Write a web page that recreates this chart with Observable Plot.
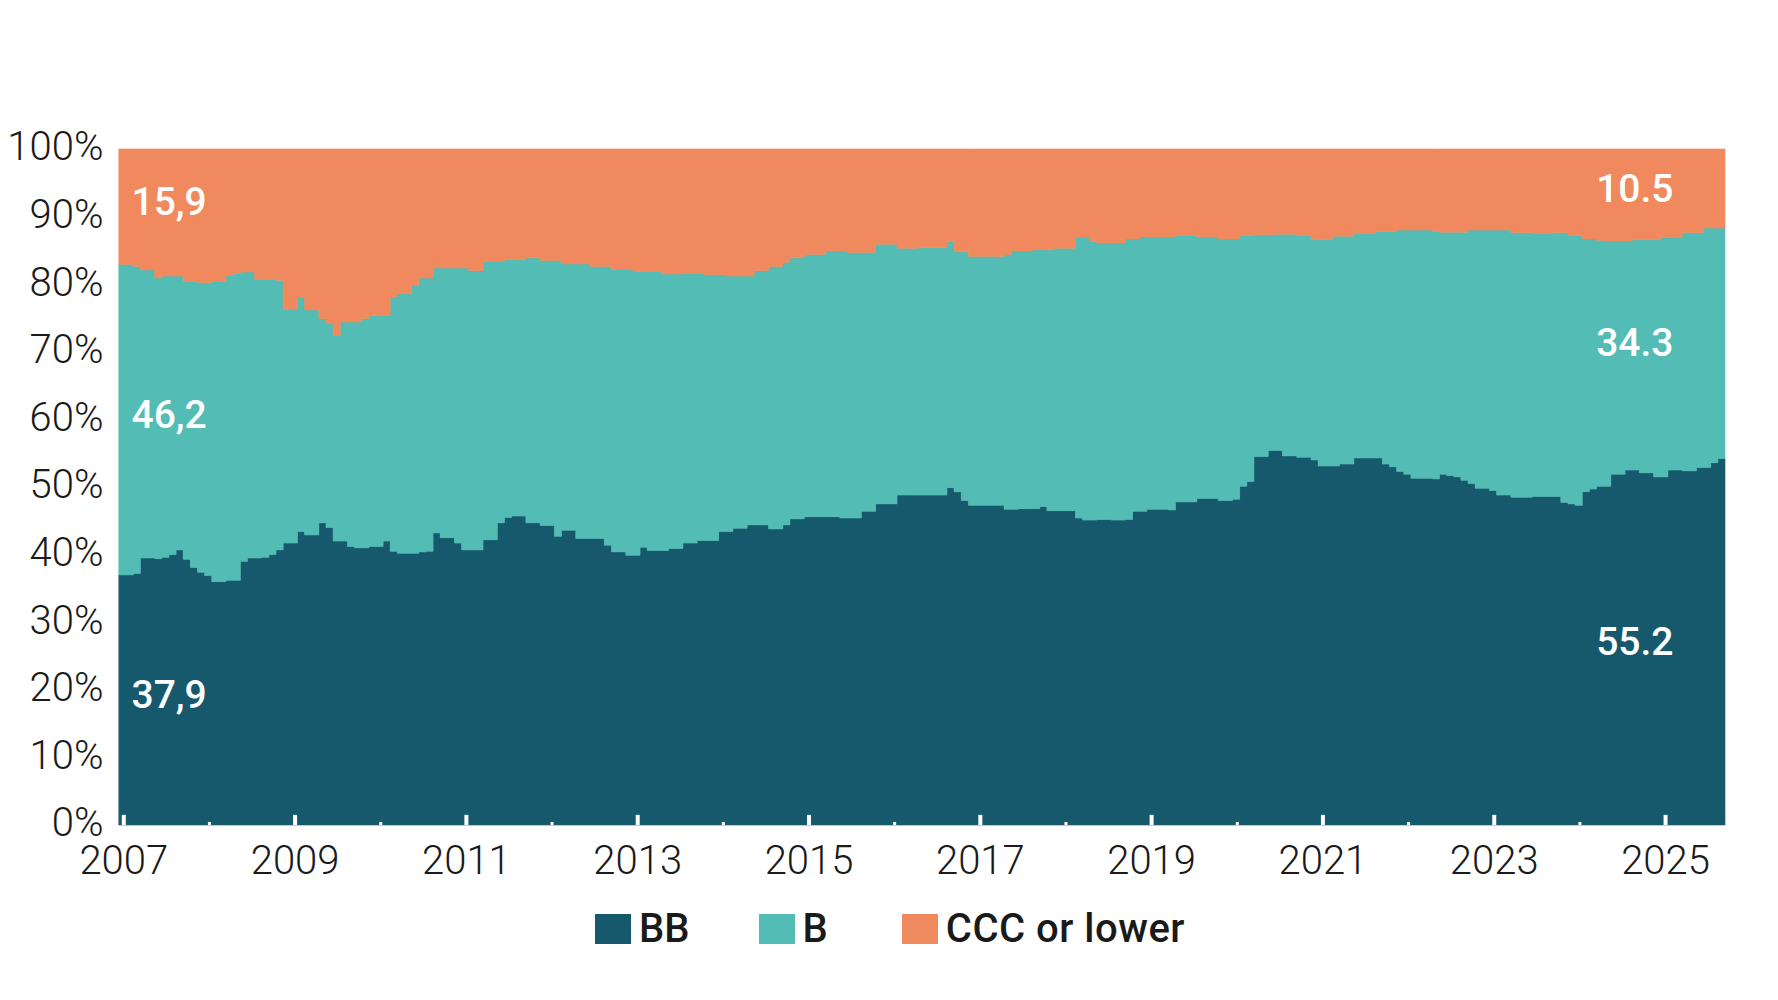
<!DOCTYPE html>
<html>
<head>
<meta charset="utf-8">
<script src="https://cdn.jsdelivr.net/npm/d3@7"></script>
<script src="https://cdn.jsdelivr.net/npm/@observablehq/plot@0.6"></script>
<style>
  html, body { margin: 0; padding: 0; background: #fff; }
  #wrap { position: relative; width: 1778px; height: 1000px; font-family: Roboto, "Open Sans", sans-serif; }
  #legend { position: absolute; left: 595px; top: 914px; display: flex; align-items: flex-start; gap: 69px; }
  .item { display: flex; align-items: flex-start; gap: 8px; height: 30px; }
  .item:last-child { margin-left: 5px; }
  .sw { width: 36px; height: 30px; }
  .lab { font-family: Roboto, sans-serif; font-weight: 500; font-size: 40px; line-height: 30px; color: #1a1a1a; white-space: nowrap; }
  .item:last-child .lab { letter-spacing: 0.5px; }
</style>
</head>
<body>
<div id="wrap"><div id="chart"></div><div id="legend"></div></div>
<script>
// Ratings, colours and read-off values (monthly, Dec 2006 – Aug 2025)
const ratings = ["BB", "B", "CCC or lower"];
const colors = ["#17596c", "#52bcb5", "#f08a5e"];
const startMonth = 2006.95; // first monthly observation (decimal year)

// Upper edge of the BB band (% of index)
const bbTop = [
  37.0, 37.0, 37.2, 39.5, 39.5, 39.4, 39.6, 40.0, 40.7, 39.3,
  38.1, 37.4, 36.9, 36.0, 36.0, 36.2, 36.2, 39.0, 39.5, 39.5,
  39.6, 40.0, 40.7, 41.7, 41.7, 43.4, 42.9, 42.9, 44.7, 44.0,
  42.0, 42.0, 41.2, 41.0, 41.0, 41.2, 41.2, 42.0, 40.5, 40.2,
  40.2, 40.2, 40.4, 40.5, 43.2, 42.5, 42.5, 41.7, 40.7, 40.7,
  40.7, 42.2, 42.2, 44.7, 45.5, 45.7, 45.7, 44.7, 44.7, 44.3,
  44.3, 42.7, 43.6, 43.6, 42.4, 42.4, 42.4, 42.4, 41.4, 40.4,
  40.4, 39.9, 39.9, 41.1, 40.6, 40.6, 40.6, 40.9, 40.9, 41.7,
  41.7, 42.1, 42.1, 42.1, 43.4, 43.4, 43.9, 43.9, 44.4, 44.4,
  44.4, 43.8, 43.8, 44.4, 45.3, 45.3, 45.6, 45.6, 45.6, 45.6,
  45.6, 45.4, 45.4, 45.4, 46.4, 46.4, 47.5, 47.5, 47.5, 48.8,
  48.8, 48.8, 48.8, 48.8, 48.8, 48.8, 49.9, 49.3, 48.0, 47.3,
  47.3, 47.3, 47.3, 47.3, 46.7, 46.7, 46.8, 46.8, 46.8, 47.1,
  46.5, 46.5, 46.5, 46.5, 45.4, 45.1, 45.1, 45.2, 45.2, 45.1,
  45.1, 45.2, 46.4, 46.4, 46.7, 46.7, 46.7, 46.6, 47.8, 47.8,
  47.8, 48.3, 48.3, 48.3, 48.0, 48.0, 48.2, 50.1, 50.8, 54.5,
  54.5, 55.4, 55.4, 54.6, 54.6, 54.4, 54.4, 54.0, 53.1, 53.1,
  53.1, 53.4, 53.4, 54.3, 54.3, 54.3, 54.3, 53.4, 53.0, 52.3,
  51.9, 51.3, 51.3, 51.3, 51.2, 51.9, 51.7, 51.5, 51.0, 50.5,
  49.8, 49.8, 49.5, 48.8, 48.8, 48.5, 48.5, 48.5, 48.6, 48.6,
  48.6, 48.6, 47.7, 47.5, 47.3, 49.3, 49.7, 50.1, 50.1, 51.9,
  51.9, 52.5, 52.5, 52.1, 52.1, 51.5, 51.5, 52.5, 52.5, 52.4,
  52.4, 52.9, 52.9, 53.6, 54.2
];

// Upper edge of the B band (BB + B, % of index); the rest is CCC or lower
const bTop = [
  82.9, 82.9, 82.6, 82.1, 82.1, 80.9, 81.2, 81.2, 81.2, 80.4,
  80.4, 80.2, 80.2, 80.4, 80.4, 81.3, 81.6, 81.8, 81.8, 80.7,
  80.7, 80.7, 80.6, 76.3, 76.3, 78.1, 76.2, 76.2, 74.9, 74.2,
  72.4, 74.4, 74.4, 74.4, 74.9, 75.4, 75.4, 75.4, 78.1, 78.6,
  78.6, 79.9, 80.9, 80.9, 82.4, 82.4, 82.4, 82.4, 82.4, 82.0,
  82.0, 83.4, 83.4, 83.4, 83.7, 83.7, 83.7, 83.9, 83.9, 83.5,
  83.5, 83.5, 83.0, 83.0, 83.0, 83.0, 82.6, 82.6, 82.6, 82.2,
  82.2, 82.2, 81.9, 81.9, 81.9, 81.9, 81.5, 81.5, 81.5, 81.6,
  81.6, 81.6, 81.4, 81.4, 81.4, 81.2, 81.2, 81.2, 81.2, 82.0,
  82.0, 82.6, 82.6, 83.2, 83.9, 83.9, 84.4, 84.4, 84.4, 84.9,
  84.9, 84.9, 84.7, 84.7, 84.7, 84.7, 85.9, 85.9, 85.9, 85.3,
  85.3, 85.3, 85.4, 85.4, 85.4, 85.4, 86.3, 84.8, 84.8, 84.1,
  84.1, 84.1, 84.1, 84.1, 84.4, 84.9, 84.9, 84.9, 85.1, 85.1,
  85.1, 85.3, 85.3, 85.3, 87.0, 87.0, 86.3, 86.1, 86.1, 86.1,
  86.1, 86.7, 86.7, 87.0, 87.0, 87.0, 87.0, 87.0, 87.2, 87.2,
  87.2, 87.0, 87.0, 87.0, 86.7, 86.7, 86.7, 87.2, 87.2, 87.3,
  87.3, 87.3, 87.4, 87.4, 87.4, 87.2, 87.2, 86.6, 86.6, 86.6,
  87.1, 87.1, 87.1, 87.5, 87.5, 87.5, 87.8, 87.8, 87.8, 88.0,
  88.0, 88.0, 88.0, 88.0, 87.8, 87.7, 87.7, 87.7, 87.7, 88.0,
  88.0, 88.0, 88.0, 88.0, 88.0, 87.6, 87.6, 87.6, 87.5, 87.5,
  87.5, 87.6, 87.6, 87.2, 87.2, 86.7, 86.7, 86.5, 86.4, 86.4,
  86.4, 86.4, 86.6, 86.6, 86.6, 86.6, 86.9, 86.9, 86.9, 87.6,
  87.6, 87.6, 88.3, 88.3, 88.3
];

const startLabels = ["37,9", "46,2", "15,9"];
const endLabels = ["55.2", "34.3", "10.5"];
const yTicks = [0, 10, 20, 30, 40, 50, 60, 70, 80, 90, 100];
const yearLabels = [2007, 2009, 2011, 2013, 2015, 2017, 2019, 2021, 2023, 2025];
const yearMinor = [2008, 2010, 2012, 2014, 2016, 2018, 2020, 2022, 2024];

// Build the long table for stacking (one extra row closes the last step)
const n = bbTop.length;
const rows = [];
for (let i = 0; i <= n; i++) {
  const j = Math.min(i, n - 1);
  const x = startMonth + i / 12;
  rows.push({x, rating: "BB", value: bbTop[j]});
  rows.push({x, rating: "B", value: bTop[j] - bbTop[j]});
  rows.push({x, rating: "CCC or lower", value: 100 - bTop[j]});
}
const xFirst = startMonth;
const xLast = startMonth + n / 12;
const firstMid = [bbTop[0] / 2, (bbTop[0] + bTop[0]) / 2, (bTop[0] + 100) / 2];
const lastMid = [bbTop[n - 1] / 2, (bbTop[n - 1] + bTop[n - 1]) / 2, (bTop[n - 1] + 100) / 2];

const chart = Plot.plot({
  width: 1778,
  height: 885,
  marginLeft: 119,
  marginRight: 53,
  marginTop: 149,
  marginBottom: 60,
  style: {fontFamily: "Roboto, sans-serif", background: "white", color: "#1a1a1a"},
  x: {type: "linear", domain: [xFirst, xLast]},
  y: {domain: [0, 100]},
  color: {domain: ratings, range: colors},
  marks: [
    Plot.areaY(rows, {x: "x", y: "value", z: "rating", fill: "rating", stroke: "rating", strokeWidth: 0.6, curve: "step-after", order: ratings}),
    Plot.ruleX(yearLabels, {y1: 0, y2: 1.5, stroke: "white", strokeWidth: 4}),
    Plot.ruleX(yearMinor, {y1: 0, y2: 0.45, stroke: "white", strokeWidth: 3}),
    Plot.axisY(yTicks, {tickFormat: d => d + "%", tickSize: 0, tickPadding: 16, fontSize: 40, fontWeight: 300, fill: "#1a1a1a", dy: -2, label: null}),
    Plot.axisX(yearLabels, {tickFormat: d => String(d), tickSize: 0, tickPadding: 20, fontSize: 40, fontWeight: 300, fill: "#1a1a1a", label: null}),
    Plot.text(startLabels, {x: () => xFirst, y: (d, i) => firstMid[i], text: d => d, textAnchor: "start", dx: 12, dy: -5, fill: "white", fontSize: 39, fontWeight: 500}),
    Plot.text(endLabels, {x: () => xLast, y: (d, i) => lastMid[i], text: d => d, textAnchor: "end", dx: -52, fill: "white", fontSize: 39, fontWeight: 500})
  ]
});
document.getElementById("chart").appendChild(chart);

const legend = document.getElementById("legend");
ratings.forEach((r, i) => {
  const item = document.createElement("div");
  item.className = "item";
  const sw = document.createElement("div");
  sw.className = "sw";
  sw.style.background = colors[i];
  const lab = document.createElement("div");
  lab.className = "lab";
  lab.textContent = r;
  item.appendChild(sw);
  item.appendChild(lab);
  legend.appendChild(item);
});
</script>
</body>
</html>
